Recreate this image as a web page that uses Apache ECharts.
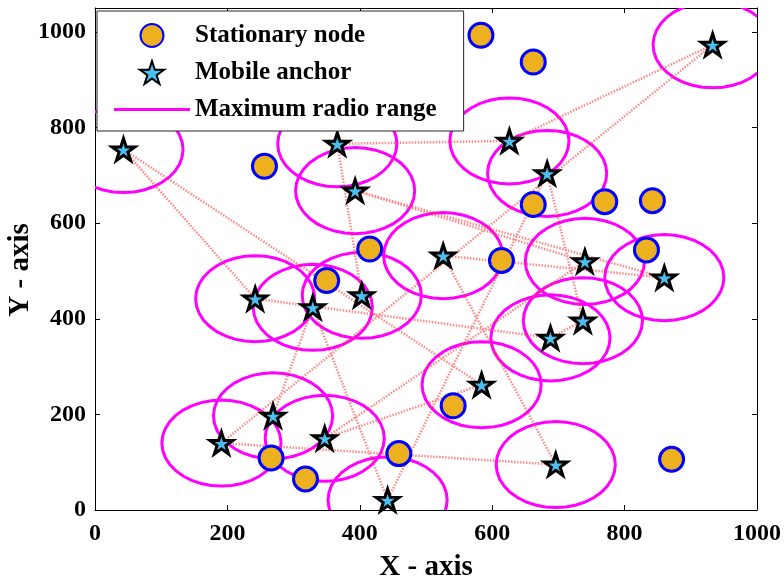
<!DOCTYPE html>
<html>
<head>
<meta charset="utf-8">
<script src="https://cdn.jsdelivr.net/npm/echarts/dist/echarts.min.js"></script>
<style>
  html, body { margin: 0; padding: 0; background: #fff; }
  #chart { width: 784px; height: 582px; }
</style>
</head>
<body>
<div id="chart"></div>
<script>
// Stationary (unknown) sensor nodes
const nodeX = [583, 662, 256, 662, 770, 842, 415, 833, 614, 350, 541, 266, 459, 318, 871];
const nodeY = [993, 937, 719, 639, 645, 647, 546, 544, 522, 480, 218, 109, 118, 65, 106];

// Mobile anchor positions, listed in the order the anchor visits them
const anchorX = [403, 366, 626, 933, 191, 696, 526, 860, 393, 740, 347, 584, 43, 242, 688, 737, 683, 442, 329, 269];
const anchorY = [449, 766, 772, 973, 140, 95, 532, 486, 668, 520, 150, 262, 754, 442, 360, 396, 704, 21, 424, 197];

// Radio range of an anchor (same units as the axes)
const radioRange = 90;

// Axis settings
const xMin = 0, xMax = 1000, xStep = 200;
const yMin = 0, yMax = 1050, yStep = 200;

const nodePoints = nodeX.map((x, i) => [x, nodeY[i]]);
const anchorPoints = anchorX.map((x, i) => [x, anchorY[i]]);

const FONT = "'Liberation Serif', 'Times New Roman', serif";
const STAR = 'path://M0,-10 L2.245,-3.09 L9.511,-3.09 L3.633,1.18 L5.878,8.09 L0,3.82 L-5.878,8.09 L-3.633,1.18 L-9.511,-3.09 L-2.245,-3.09 Z';
const LINE_ICON = 'path://M0,0 H76 V3 H0 Z';

const chart = echarts.init(document.getElementById('chart'), null, { renderer: 'canvas' });

const labelStyle = {
  fontFamily: FONT, fontWeight: 'bold', fontSize: 24, color: '#000',
  formatter: v => String(v)
};

function rangeRing(params, api) {
  const cx = api.value(0), cy = api.value(1);
  const n = 36;
  const pts = [];
  for (let k = 0; k < n; k++) {
    const t = 2 * Math.PI * k / n;
    pts.push(api.coord([cx + radioRange * Math.cos(t), cy + radioRange * Math.sin(t)]));
  }
  const cs = params.coordSys;
  return {
    type: 'polygon',
    shape: { points: pts },
    style: { fill: 'none', stroke: '#FF00FF', lineWidth: 3 },
    clipPath: { type: 'rect', shape: { x: cs.x, y: cs.y, width: cs.width, height: cs.height } }
  };
}

chart.setOption({
  animation: false,
  backgroundColor: '#fff',
  grid: { left: 95, right: 27, top: 8, bottom: 72, containLabel: false, outerBoundsMode: 'none' },
  legend: {
    orient: 'vertical',
    left: 97, top: 11,
    z: 20,
    padding: [12, 27, 9, 17],
    itemWidth: 76, itemHeight: 23, itemGap: 12,
    backgroundColor: '#fff',
    borderColor: '#262626', borderWidth: 1,
    textStyle: { fontFamily: FONT, fontWeight: 'bold', fontSize: 25, color: '#000' },
    data: [
      { name: 'Stationary node' },
      { name: 'Mobile anchor' },
      { name: 'Maximum radio range', icon: LINE_ICON }
    ]
  },
  xAxis: [{
    type: 'value', min: xMin, max: xMax, interval: xStep,
    name: 'X - axis', nameLocation: 'middle', nameGap: 43, nameMoveOverlap: false,
    nameTextStyle: { fontFamily: FONT, fontWeight: 'bold', fontSize: 29, color: '#000' },
    axisLine: { show: true, onZero: false, lineStyle: { color: '#000', width: 1 } },
    axisTick: { show: true, inside: true, length: 5, lineStyle: { color: '#000' } },
    axisLabel: Object.assign({ margin: 12 }, labelStyle),
    splitLine: { show: false }
  }, {
    type: 'value', position: 'top', min: xMin, max: xMax, interval: xStep,
    axisLine: { show: true, onZero: false, lineStyle: { color: '#000', width: 1 } },
    axisTick: { show: true, inside: true, length: 5, lineStyle: { color: '#000' } },
    axisLabel: { show: false },
    splitLine: { show: false }
  }],
  yAxis: [{
    type: 'value', min: yMin, max: yMax, interval: yStep,
    name: 'Y - axis', nameLocation: 'middle', nameGap: 60, nameRotate: 90, nameMoveOverlap: false,
    nameTextStyle: { fontFamily: FONT, fontWeight: 'bold', fontSize: 29, color: '#000', padding: [0, 22, 0, 0] },
    axisLine: { show: true, onZero: false, lineStyle: { color: '#000', width: 1 } },
    axisTick: { show: true, inside: true, length: 5, lineStyle: { color: '#000' } },
    axisLabel: Object.assign({ margin: 9, showMaxLabel: false }, labelStyle),
    splitLine: { show: false }
  }, {
    type: 'value', position: 'right', min: yMin, max: yMax, interval: yStep,
    axisLine: { show: true, onZero: false, lineStyle: { color: '#000', width: 1 } },
    axisTick: { show: true, inside: true, length: 5, lineStyle: { color: '#000' } },
    axisLabel: { show: false },
    splitLine: { show: false }
  }],
  series: [
    {
      name: 'Stationary node',
      type: 'scatter',
      data: nodePoints,
      symbol: 'circle',
      symbolSize: 24,
      itemStyle: { color: '#EDB120', borderColor: '#0000FF', borderWidth: 3, opacity: 1 },
      z: 2
    },
    {
      name: 'Mobile anchor',
      type: 'scatter',
      data: anchorPoints,
      symbol: STAR,
      symbolSize: [23, 22],
      itemStyle: { color: '#4DBEEE', borderColor: '#000', borderWidth: 3, opacity: 1 },
      z: 2
    },
    {
      name: 'trajectory',
      type: 'line',
      data: anchorPoints,
      symbol: 'none',
      lineStyle: { color: 'rgba(255, 60, 60, 0.6)', width: 2.5, type: [1.5, 1.5] },
      silent: true,
      z: 2
    },
    {
      name: 'ranges',
      type: 'custom',
      data: anchorPoints,
      renderItem: rangeRing,
      silent: true,
      z: 2
    },
    {
      name: 'Maximum radio range',
      type: 'line',
      data: [],
      symbol: 'none',
      itemStyle: { color: '#FF00FF' },
      lineStyle: { color: '#FF00FF', width: 3 }
    }
  ]
});
</script>
</body>
</html>
